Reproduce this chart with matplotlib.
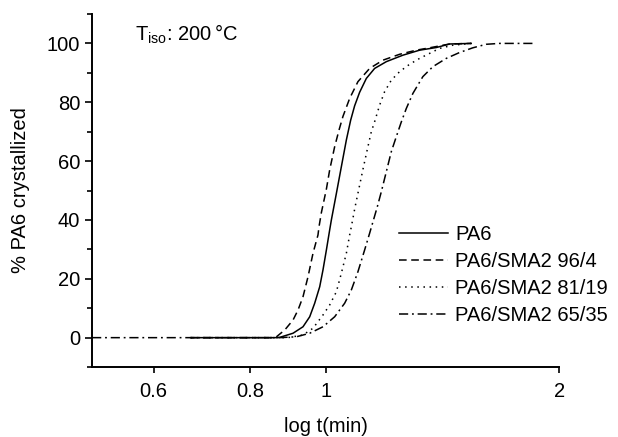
import matplotlib.pyplot as plt
from matplotlib.ticker import FixedLocator, NullFormatter, FixedFormatter

plt.rcParams['font.family'] = ['Liberation Sans', 'DejaVu Sans']

# time (min) and % crystallized
tPA6 = [0.670, 0.860, 0.8726, 0.9076, 0.9349, 0.9537, 0.9679, 0.9824, 0.9920, 1.0021, 1.0119,
        1.0170, 1.0322, 1.0476, 1.0633, 1.0769, 1.0897, 1.1060, 1.1282, 1.1563, 1.1971,
        1.2575, 1.3213, 1.3883, 1.4442, 1.5399]
yPA6 = [0, 0, 0.1, 1.5, 3.7, 7.1, 11.7, 17.3, 23.0, 29.8, 36.6,
        40.0, 49.0, 58.1, 67.2, 73.9, 78.8, 83.4, 88.1, 91.5, 93.8,
        96.0, 97.7, 98.6, 99.8, 100]

t96 = [0.670, 0.850, 0.8641, 0.8856, 0.9077, 0.9212, 0.9349, 0.9489, 0.9631, 0.9774, 0.9804,
       0.9873, 1.0021, 1.0119, 1.0270, 1.0402, 1.0526, 1.0737, 1.1004, 1.1393, 1.1851,
       1.2452, 1.3084, 1.3610, 1.4442, 1.5399]
y96 = [0, 0, 0.3, 2.6, 6.0, 9.4, 13.9, 20.7, 28.7, 34.9, 37.7,
       42.5, 50.5, 57.0, 64.9, 70.5, 75.2, 81.3, 87.0, 91.5, 94.3,
       96.3, 97.7, 98.5, 99.8, 100]

t81 = [0.670, 0.885, 0.8988, 0.9349, 0.9631, 0.9920, 1.0119, 1.0322, 1.0476, 1.0633, 1.0737,
       1.0791, 1.0907, 1.1037, 1.1169, 1.1302, 1.1450, 1.1563, 1.1735, 1.1911, 1.2149,
       1.2452, 1.2826, 1.3213, 1.3610, 1.4019, 1.4582, 1.5399]
y81 = [0, 0, 0.1, 0.9, 3.2, 7.7, 11.1, 15.6, 21.9, 28.7, 34.9,
       37.7, 44.2, 50.7, 57.2, 63.4, 70.0, 73.4, 79.0, 83.6, 87.5,
       90.4, 92.9, 94.9, 96.6, 98.3, 99.4, 100]

t65 = [0.500, 0.8726, 0.9168, 0.9537, 0.9920, 1.0270, 1.0579, 1.0791, 1.1004, 1.1225, 1.1393,
       1.1656, 1.1795, 1.1971, 1.2149, 1.2331, 1.2515, 1.2703, 1.2953, 1.3341, 1.3744,
       1.4300, 1.4875, 1.5473, 1.6099, 1.6746, 1.8670]
y65 = [0, 0, 0.3, 1.5, 3.7, 7.1, 11.7, 16.2, 22.4, 29.8, 35.5,
       44.5, 49.6, 56.4, 63.2, 68.3, 73.3, 77.9, 83.0, 88.7, 92.1,
       94.9, 96.9, 98.5, 99.7, 100, 100]

labels = ["PA6", "PA6/SMA2 96/4", "PA6/SMA2 81/19", "PA6/SMA2 65/35"]
xTicks = [0.6, 0.8, 1, 2]

fig = plt.figure(figsize=(6.18, 4.37), dpi=100)
ax = fig.add_axes([0.149, 0.160, 0.756, 0.808])

lw = 1.1
ax.plot(tPA6, yPA6, color="black", lw=lw, linestyle="-", label=labels[0])
ax.plot(t96, y96, color="black", lw=lw, linestyle=(0, (5, 3)), label=labels[1])
ax.plot(t81, y81, color="black", lw=lw, linestyle=(0, (1, 3)), label=labels[2])
ax.plot(t65, y65, color="black", lw=lw, linestyle=(0, (6, 2.5, 1.2, 2.5)), label=labels[3])

ax.set_xscale("log")
ax.set_xlim(0.5, 2)
ax.set_ylim(-10, 110)
ax.xaxis.set_major_locator(FixedLocator(xTicks))
ax.xaxis.set_major_formatter(FixedFormatter([str(v) for v in xTicks]))
ax.xaxis.set_minor_locator(FixedLocator([]))
ax.xaxis.set_minor_formatter(NullFormatter())
ax.yaxis.set_major_locator(FixedLocator([0, 20, 40, 60, 80, 100]))
ax.yaxis.set_minor_locator(FixedLocator([-10, 10, 30, 50, 70, 90, 110]))

for side in ["top", "right"]:
    ax.spines[side].set_visible(False)
for side in ["left", "bottom"]:
    ax.spines[side].set_linewidth(1.4)
ax.tick_params(axis="both", which="major", direction="out", length=5, width=1.2, labelsize=14.5)
ax.tick_params(axis="x", which="major", length=4, pad=7)
ax.tick_params(axis="y", which="minor", direction="out", length=3.4, width=1.2)

ax.set_xlabel("log t(min)", fontsize=14.5, labelpad=11)
ax.set_ylabel("% PA6 crystallized", fontsize=14.5, labelpad=12)
ax.text(0.092, 0.925, r"T$_{\mathregular{iso}}$: 200$\,$°C", transform=ax.transAxes, fontsize=14.5)

ax.legend(loc="upper left", bbox_to_anchor=(0.639, 0.425), frameon=False, fontsize=14.5,
          handlelength=2.45, handletextpad=0.35, labelspacing=0.4, borderaxespad=0)

plt.savefig("out.png", dpi=100)
